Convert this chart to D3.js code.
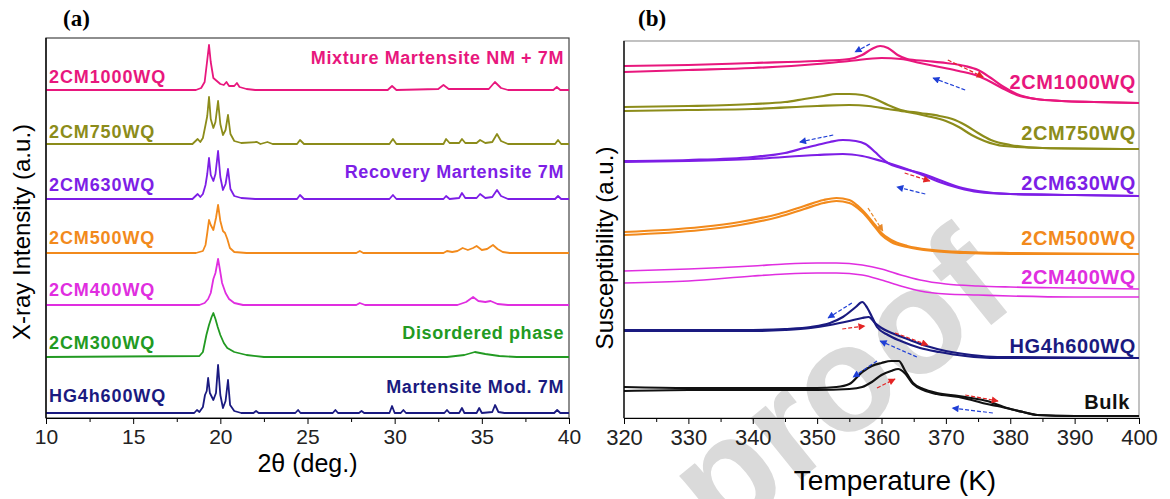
<!DOCTYPE html>
<html>
<head>
<meta charset="utf-8">
<script src="https://cdn.jsdelivr.net/npm/d3@7"></script>
<style>
  body { margin: 0; background: #fff; }
  svg { display: block; font-family: "Liberation Sans", Arial, sans-serif; }
</style>
</head>
<body>
<div id="chart"></div>
<script>
var width = 1170;
var height = 499;

// ---- panel (a): XRD patterns, [2theta, counts above own baseline] ----
var xrdSamples = ["2CM1000WQ", "2CM750WQ", "2CM630WQ", "2CM500WQ", "2CM400WQ", "2CM300WQ", "HG4h600WQ"];
var xrdColors = ["#e8177d", "#8c8c1a", "#7d1ee6", "#f28a1c", "#e02ee0", "#229a22", "#1a1a80"];
var xrdOffsets = [328, 274, 219, 165, 113, 61, 5];
var xrdLabelY = [341, 286, 233, 180, 128, 75, 22];
var xrdTicks = [10, 15, 20, 25, 30, 35, 40];
var xrdMinor = [12.5, 17.5, 22.5, 27.5, 32.5, 37.5];

var xrd1000 = [[10,0],[18.6,0],[18.9,2],[19.1,8],[19.25,30],[19.35,45],[19.45,28],[19.6,12],[19.8,9],[20.0,6],[20.2,5],[20.35,8],[20.5,4],[20.8,4],[20.95,7],[21.1,3],[21.5,1],[22,0],[29.6,0],[29.85,4],[30.1,0],[32.5,1],[32.8,5],[33.1,1],[35.4,1],[35.75,8],[36.1,2],[36.5,0],[39.1,0],[39.3,3],[39.5,0],[40,0]];
var xrd750 = [[10,0],[18.4,0],[18.7,5],[18.85,2],[19.0,6],[19.15,19],[19.25,28],[19.35,47],[19.45,25],[19.6,16],[19.72,22],[19.87,43],[20.0,20],[20.15,9],[20.3,14],[20.44,29],[20.58,10],[20.8,3],[21.2,1],[22.1,2],[22.3,0],[22.7,2],[23,0],[24.4,0],[24.57,4],[24.8,0],[29.7,0],[29.9,5],[30.1,0],[32.8,0],[32.95,5],[33.15,1],[33.7,1],[33.86,5],[34.05,1],[34.7,1],[34.9,4],[35.2,1],[35.6,2],[35.87,10],[36.1,3],[36.5,0],[39.2,0],[39.37,4],[39.55,0],[40,0]];
var xrd630 = [[10,0],[18.4,0],[18.7,5],[18.85,2],[19.0,5],[19.15,14],[19.25,25],[19.35,41],[19.45,24],[19.6,18],[19.72,25],[19.87,48],[20.0,22],[20.15,9],[20.3,15],[20.44,30],[20.58,10],[20.8,3],[21.2,1],[22,0],[24.4,0],[24.57,4],[24.8,0],[29.7,0],[29.9,4],[30.1,0],[32.8,0],[32.95,3],[33.15,0],[33.7,1],[33.86,6],[34.05,1],[34.7,1],[34.9,5],[35.2,1],[35.6,2],[35.87,9],[36.1,3],[36.5,0],[39.2,0],[39.37,3],[39.55,0],[40,0]];
var xrd500 = [[10,0],[18.6,0],[19.0,2],[19.15,8],[19.25,20],[19.35,33],[19.45,28],[19.6,23],[19.75,35],[19.87,48],[20.0,32],[20.15,22],[20.27,20],[20.4,14],[20.55,5],[20.8,1],[21.5,0],[27.8,0],[28.0,2],[28.2,0],[32.8,0],[33.0,2],[33.3,1],[33.6,2],[33.9,5],[34.2,3],[34.5,5],[34.7,7],[35.0,3],[35.3,4],[35.64,8],[35.9,4],[36.2,1],[36.6,0],[40,0]];
var xrd400 = [[10,0],[18.8,0],[19.1,2],[19.3,6],[19.45,12],[19.6,26],[19.72,32],[19.87,46],[19.97,36],[20.1,22],[20.3,12],[20.5,6],[20.8,2],[21.3,0],[27.8,0],[28.0,2],[28.3,0],[33.6,0],[34.1,3],[34.5,8],[34.8,4],[35.2,3],[35.5,4],[35.9,1],[36.5,0],[40,0]];
var xrd300 = [[10,0],[18.8,1],[19.0,5],[19.2,22],[19.35,32],[19.5,40],[19.6,44],[19.72,38],[19.85,30],[20.0,22],[20.2,14],[20.4,9],[20.8,5],[21.5,2],[22.5,0],[33,0],[34.0,2],[34.6,5],[35.2,3],[36,1],[37,0],[40,0]];
var xrdHG = [[10,0],[18.5,0],[18.66,3],[18.8,1],[19.0,6],[19.12,18],[19.22,22],[19.3,35],[19.4,20],[19.6,13],[19.75,20],[19.87,48],[20.0,18],[20.15,5],[20.3,12],[20.44,33],[20.56,8],[20.8,2],[21.2,0],[21.9,0],[22.05,2],[22.2,0],[24.3,0],[24.46,3],[24.6,0],[26.45,0],[26.6,3],[26.75,0],[27.95,0],[28.1,2],[28.25,0],[29.7,0],[29.85,7],[30.0,0],[30.35,0],[30.5,3],[30.65,0],[32.85,0],[33.0,3],[33.15,0],[33.7,0],[33.86,5],[34.0,0],[34.7,0],[34.85,5],[35.0,0],[35.6,1],[35.76,8],[35.95,1],[36.3,0],[39.15,0],[39.32,3],[39.5,0],[40,0]];
var xrdPatterns = [xrd1000, xrd750, xrd630, xrd500, xrd400, xrd300, xrdHG];

var phaseLabels = ["Mixture Martensite NM + 7M", "Recovery Martensite 7M", "Disordered phase", "Martensite Mod. 7M"];
var phaseLabelY = [360, 246, 85, 31];
var phaseColors = ["#e8177d", "#7d1ee6", "#229a22", "#1a1a80"];

// ---- panel (b): susceptibility, [T (K), a.u.] cooling / heating ----
var susSamples = ["2CM1000WQ", "2CM750WQ", "2CM630WQ", "2CM500WQ", "2CM400WQ", "HG4h600WQ", "Bulk"];
var susColors = ["#e8177d", "#8c8c1a", "#7d1ee6", "#f28a1c", "#e02ee0", "#1a1a80", "#111111"];
var susLabelY = [336, 285, 235, 180, 141, 72, 16];
var susTicks = [320, 330, 340, 350, 360, 370, 380, 390, 400];
var susMinor = [325, 335, 345, 355, 365, 375, 385, 395];

var cool1000 = [[320,352],[330,353],[340,355],[350,357],[355,359],[357,363],[358.5,369],[359.8,372],[361,370],[362.5,363],[364,359],[367,357],[370,355],[373,352],[375,348],[377,340],[379,331],[381,324],[384,319],[388,317],[393,316],[400,315]];
var heat1000 = [[320,346],[330,348],[340,350],[350,354],[355,357],[360,360],[363,359],[366,355],[369,351],[372,347],[375,342],[377,336],[379,329],[381,323],[384,319],[388,317],[393,316],[400,315]];
var cool750 = [[320,311],[330,312],[340,314],[345,316],[348,319],[351,322],[353,324],[355,324],[357,323],[359,319],[361,313],[363,308],[366,305],[369,302],[371,299],[373,293],[375,285],[377,278],[380,273],[385,270],[400,269]];
var heat750 = [[320,307],[330,308],[340,309],[350,312],[355,313],[358,312],[361,309],[364,306],[367,302],[370,297],[372,291],[374,283],[376,277],[379,272],[385,270],[400,269]];
var cool630 = [[320,257],[330,258],[340,261],[345,265],[348,270],[350,273],[352,276],[354,278],[356,277],[357.5,274],[359,266],[360,260],[361,255],[363,250],[366,245],[369,238],[372,231],[375,227],[380,224],[390,223],[400,222]];
var heat630 = [[320,256],[330,257],[340,259],[350,263],[354,264],[357,262],[360,257],[363,251],[366,244],[369,236],[372,230],[375,226],[380,224],[390,223],[400,222]];
var cool500 = [[320,186],[332,191],[338,196],[344,204],[348,212],[351,218],[353,220],[355,218],[357,208],[359,193],[360,185],[361.5,178],[364,172],[368,168],[373,166],[380,165],[400,164]];
var heat500 = [[320,183],[332,188],[338,193],[344,201],[348,209],[351,215],[353,217],[355,215],[357,206],[359,191],[360,183],[361.5,176],[364,171],[368,167],[373,165],[380,164],[400,164]];
var cool400 = [[320,147],[330,149],[340,152],[345,154],[350,155],[353,155],[357,153],[360,149],[363,143],[366,138],[370,134],[375,132],[380,131],[390,130],[400,129]];
var heat400 = [[320,135],[330,137],[340,142],[345,144],[350,145],[353,145],[357,143],[360,138],[363,132],[366,127],[370,124],[375,123],[380,122],[390,121],[400,121]];
var coolHG = [[320,88],[330,88],[340,88],[345,89],[349,91],[352,95],[354,101],[356,111],[357,116],[357.8,110],[358.6,100],[359.3,91],[361,83],[363,77],[366,70],[369,66],[373,62],[378,60],[400,60]];
var heatHG = [[320,87],[330,87],[340,87],[345,88],[349,90],[352,93],[355,97],[357,100],[358,101],[359,95],[360,90],[362,84],[364,79],[367,72],[370,67],[374,63],[378,61],[400,60]];
var coolBulk = [[320,31],[330,30],[340,30],[350,30],[353,31],[355,34],[357,46],[358.5,52],[360,55],[361.5,57],[362.7,57],[363.6,48],[364.9,35],[366.5,29],[368.6,25],[372,22],[374,20],[376.4,17],[379.5,10],[382,6],[384.2,3],[390,2],[400,2]];
var heatBulk = [[320,27],[330,28],[340,28],[350,28],[355,29],[357,31],[358.5,36],[360,43],[361.5,47],[362.6,49],[363.6,45],[364.9,34],[366.5,28],[368.6,24],[372,21],[374,18],[376.4,14],[378,12],[380,9],[382,6],[384.2,3],[390,2],[400,2]];
var susCool = [cool1000, cool750, cool630, cool500, cool400, coolHG, coolBulk];
var susHeat = [heat1000, heat750, heat630, heat500, heat400, heatHG, heatBulk];

// arrows: [T0, v0, T1, v1, kind]
var susArrows = [
  [358.2,374,355.9,366,"cool"], [370.3,358,375.8,341,"heat"], [373.0,328,368.0,340,"cool"],
  [352.5,283,347.3,276,"cool"], [363.6,245,367.5,237,"heat"], [366.8,224,362.4,231,"cool"],
  [357.9,210,360.2,187,"orange"],
  [355.4,115,351.7,100,"cool"], [353.9,89,357.4,92,"heat"], [362.1,85,367.2,73,"heat"], [365.5,61,359.8,77,"cool"],
  [359.3,57,355.6,41,"cool"], [359.3,30,362.1,39,"heat"], [373.0,23,378.1,17,"heat"], [377.3,5,371.0,10,"cool"]
];
var arrowColors = { cool: "#1f3fd6", heat: "#e42424", orange: "#e8892a" };

var svg = d3.select("#chart").append("svg")
    .attr("width", width)
    .attr("height", height);

// watermark behind everything
svg.append("g")
    .attr("transform", "translate(845,392) rotate(-39)")
  .append("text")
    .attr("y", 40)
    .attr("text-anchor", "middle")
    .attr("font-size", 150)
    .attr("font-weight", "bold")
    .attr("fill", "#dadada")
    .text("proof");

var defs = svg.append("defs");
Object.keys(arrowColors).forEach(function(k) {
    defs.append("marker")
        .attr("id", "head-" + k)
        .attr("viewBox", "0 0 10 10")
        .attr("refX", 9).attr("refY", 5)
        .attr("markerWidth", 9).attr("markerHeight", 7)
        .attr("markerUnits", "userSpaceOnUse")
        .attr("orient", "auto")
      .append("path")
        .attr("d", "M0,0 L10,5 L0,10 z")
        .attr("fill", arrowColors[k]);
});

// ================= panel (a) =================
var xA = d3.scaleLinear().domain([10, 40]).range([46, 569]);
var yA = d3.scaleLinear().domain([0, 380]).range([418, 38]);

var gA = svg.append("g");

gA.append("rect")
    .attr("x", xA(10)).attr("y", yA(380))
    .attr("width", xA(40) - xA(10)).attr("height", yA(0) - yA(380))
    .attr("fill", "none").attr("stroke", "#444").attr("stroke-width", 1.2);

xrdPatterns.forEach(function(pts, i) {
    var line = d3.line()
        .x(function(d) { return xA(d[0]); })
        .y(function(d) { return yA(d[1] + xrdOffsets[i]); });
    gA.append("path")
        .datum(pts)
        .attr("d", line)
        .attr("fill", "none")
        .attr("stroke", xrdColors[i])
        .attr("stroke-width", 1.8)
        .attr("stroke-linejoin", "round");
});

gA.selectAll(".slabel")
    .data(xrdSamples)
    .enter()
    .append("text")
    .attr("x", xA(10) + 3)
    .attr("y", function(d, i) { return yA(xrdLabelY[i]); })
    .attr("dy", "0.36em")
    .attr("font-size", 18)
    .attr("font-weight", "bold")
    .attr("letter-spacing", 0.9)
    .attr("fill", function(d, i) { return xrdColors[i]; })
    .text(function(d) { return d; });

gA.selectAll(".plabel")
    .data(phaseLabels)
    .enter()
    .append("text")
    .attr("x", xA(40) - 5)
    .attr("y", function(d, i) { return yA(phaseLabelY[i]); })
    .attr("dy", "0.36em")
    .attr("text-anchor", "end")
    .attr("font-size", 18)
    .attr("font-weight", "bold")
    .attr("letter-spacing", 0.6)
    .attr("fill", function(d, i) { return phaseColors[i]; })
    .text(function(d) { return d; });

var axA = gA.append("g")
    .attr("transform", "translate(0," + yA(0) + ")")
    .call(d3.axisBottom(xA).tickValues(xrdTicks).tickSize(6).tickSizeOuter(0).tickPadding(5));
gA.append("g")
    .attr("transform", "translate(0," + yA(0) + ")")
    .call(d3.axisBottom(xA).tickValues(xrdMinor).tickSize(4).tickFormat(""))
    .select(".domain").remove();
axA.selectAll("text").attr("font-size", 21).attr("fill", "#222").attr("font-family", "Liberation Sans, Arial, sans-serif");

gA.append("line")
    .attr("x1", xA(10)).attr("x2", xA(10))
    .attr("y1", yA(0)).attr("y2", yA(380))
    .attr("stroke", "#000").attr("stroke-width", 1.3);

gA.append("text")
    .attr("x", xA(25)).attr("y", 472)
    .attr("text-anchor", "middle")
    .attr("font-size", 25)
    .text("2\u03b8 (deg.)");

gA.append("text")
    .attr("transform", "translate(30," + 232 + ") rotate(-90)")
    .attr("text-anchor", "middle")
    .attr("font-size", 24)
    .text("X-ray Intensity (a.u.)");

gA.append("text")
    .attr("x", 63).attr("y", 26)
    .attr("font-family", "Liberation Serif, Times New Roman, serif")
    .attr("font-weight", "bold")
    .attr("font-size", 23)
    .text("(a)");

// ================= panel (b) =================
var xB = d3.scaleLinear().domain([320, 400]).range([624, 1139]);
var yB = d3.scaleLinear().domain([0, 377]).range([418, 41]);

var gB = svg.append("g");

gB.append("rect")
    .attr("x", xB(320)).attr("y", yB(377))
    .attr("width", xB(400) - xB(320)).attr("height", yB(0) - yB(377))
    .attr("fill", "none").attr("stroke", "#999").attr("stroke-width", 1.2);

var susLine = d3.line()
    .curve(d3.curveMonotoneX)
    .x(function(d) { return xB(d[0]); })
    .y(function(d) { return yB(d[1]); });

susSamples.forEach(function(name, i) {
    [susCool[i], susHeat[i]].forEach(function(pts) {
        gB.append("path")
            .datum(pts)
            .attr("d", susLine)
            .attr("fill", "none")
            .attr("stroke", susColors[i])
            .attr("stroke-width", i === 4 ? 1.6 : 2.2)
            .attr("stroke-linejoin", "round");
    });
});

gB.selectAll(".arrow")
    .data(susArrows)
    .enter()
    .append("line")
    .attr("x1", function(d) { return xB(d[0]); })
    .attr("y1", function(d) { return yB(d[1]); })
    .attr("x2", function(d) { return xB(d[2]); })
    .attr("y2", function(d) { return yB(d[3]); })
    .attr("stroke", function(d) { return arrowColors[d[4]]; })
    .attr("stroke-width", 1.2)
    .attr("stroke-dasharray", "4,2")
    .attr("marker-end", function(d) { return "url(#head-" + d[4] + ")"; });

gB.selectAll(".slabel")
    .data(susSamples)
    .enter()
    .append("text")
    .attr("x", function(d) { return d === "Bulk" ? xB(400) - 9 : xB(400) - 3; })
    .attr("y", function(d, i) { return yB(susLabelY[i]); })
    .attr("dy", "0.36em")
    .attr("text-anchor", "end")
    .attr("font-size", 20)
    .attr("font-weight", "bold")
    .attr("letter-spacing", 0.6)
    .attr("fill", function(d, i) { return susColors[i]; })
    .text(function(d) { return d; });

var axB = gB.append("g")
    .attr("transform", "translate(0," + yB(0) + ")")
    .call(d3.axisBottom(xB).tickValues(susTicks).tickSize(6).tickSizeOuter(0).tickPadding(5));
gB.append("g")
    .attr("transform", "translate(0," + yB(0) + ")")
    .call(d3.axisBottom(xB).tickValues(susMinor).tickSize(4).tickFormat(""))
    .select(".domain").remove();
axB.selectAll("text").attr("font-size", 22).attr("fill", "#222").attr("font-family", "Liberation Sans, Arial, sans-serif");

gB.append("line")
    .attr("x1", xB(320)).attr("x2", xB(320))
    .attr("y1", yB(0)).attr("y2", yB(377))
    .attr("stroke", "#000").attr("stroke-width", 1.3);

gB.append("text")
    .attr("x", 895).attr("y", 490)
    .attr("text-anchor", "middle")
    .attr("font-size", 28)
    .text("Temperature (K)");

gB.append("text")
    .attr("transform", "translate(613," + 248 + ") rotate(-90)")
    .attr("text-anchor", "middle")
    .attr("font-size", 24)
    .text("Susceptibility (a.u.)");

gB.append("text")
    .attr("x", 638).attr("y", 26)
    .attr("font-family", "Liberation Serif, Times New Roman, serif")
    .attr("font-weight", "bold")
    .attr("font-size", 23)
    .text("(b)");
</script>
</body>
</html>
